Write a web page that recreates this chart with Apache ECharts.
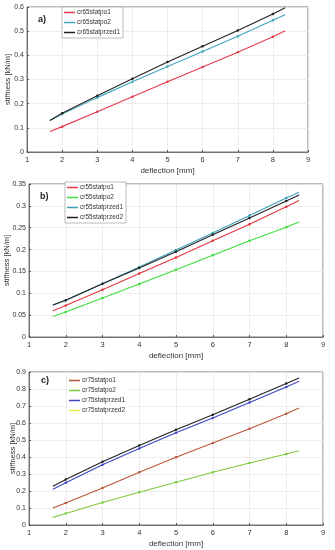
<!DOCTYPE html>
<html><head><meta charset="utf-8">
<script src="https://cdn.jsdelivr.net/npm/echarts@6/dist/echarts.min.js"></script>
<style>html,body{margin:0;padding:0;background:#fff}#c{width:335px;height:550px}</style>
</head><body><div id="c"></div>
<script>
const xs = [1.65, 2, 3, 4, 5, 6, 7, 8, 8.35];
// panel a
const aNames = ['cr65statpo1', 'cr65statpo2', 'cr65statprzed1'];
const a_po1 = [0.085, 0.105, 0.167, 0.229, 0.291, 0.352, 0.413, 0.477, 0.502];
const a_po2 = [0.130, 0.157, 0.225, 0.291, 0.354, 0.416, 0.479, 0.545, 0.568];
const a_przed1 = [0.130, 0.160, 0.233, 0.303, 0.372, 0.438, 0.503, 0.571, 0.597];
// panel b
const bNames = ['cr55statpo1', 'cr55statpo2', 'cr55statprzed1', 'cr55statprzed2'];
const b_po1 = [0.060, 0.072, 0.108, 0.145, 0.182, 0.220, 0.258, 0.298, 0.312];
const b_po2 = [0.047, 0.057, 0.089, 0.121, 0.154, 0.187, 0.220, 0.251, 0.263];
const b_przed1 = [0.073, 0.084, 0.122, 0.160, 0.199, 0.238, 0.278, 0.318, 0.331];
const b_przed2 = [0.073, 0.084, 0.122, 0.158, 0.195, 0.234, 0.272, 0.311, 0.325];
// panel c
const cNames = ['cr75statpo1', 'cr75statpo2', 'cr75statprzed1', 'cr75statprzed2'];
const c_po1 = [0.100, 0.130, 0.218, 0.310, 0.398, 0.483, 0.566, 0.654, 0.688];
const c_po2 = [0.045, 0.068, 0.132, 0.193, 0.252, 0.310, 0.365, 0.418, 0.437];
const c_przed1 = [0.210, 0.248, 0.355, 0.450, 0.542, 0.630, 0.720, 0.812, 0.845];
const c_przed2 = [0.228, 0.268, 0.372, 0.468, 0.560, 0.648, 0.740, 0.832, 0.865];
// tick settings
const xMin = 1, xMax = 9, xStep = 1;
const aMax = 0.6, aStep = 0.1;
const bMax = 0.35, bStep = 0.05;
const cMax = 0.9, cStep = 0.1;

const FONT = 'Liberation Sans';
function pts(ys){ return xs.map((x,i)=>[x, ys[i]]); }
function mkSeries(name, ys, color, gi){
  return {
    type:'line', name, data:pts(ys), xAxisIndex:gi, yAxisIndex:gi,
    symbol:'circle', symbolSize:(v)=>Number.isInteger(v[0])?2.5:0,
    showAllSymbol:true,
    lineStyle:{color, width:1.1}, itemStyle:{color},
    animation:false, z:3
  };
}
function xAxis(gi){
  return {type:'value', gridIndex:gi, min:xMin, max:xMax, interval:xStep,
    name:'deflection [mm]', nameLocation:'middle', nameGap:15, nameMoveOverlap:false,
    nameTextStyle:{fontFamily:FONT, fontSize:8, color:'#333'},
    axisLine:{lineStyle:{color:'#555', width:0.8}}, axisTick:{show:true, inside:true, length:2, lineStyle:{color:'#555'}},
    axisLabel:{fontFamily:FONT, fontSize:7.5, color:'#333', margin:4},
    splitLine:{show:true, lineStyle:{color:'#e8e8e8', width:0.8}}};
}
function yAxis(gi, max, step, gap){
  return {type:'value', gridIndex:gi, min:0, max, interval:step,
    name:'stiffness [kN/m]', nameLocation:'middle', nameGap:gap, nameMoveOverlap:false,
    nameTextStyle:{fontFamily:FONT, fontSize:7.5, color:'#333'},
    axisLine:{show:true, lineStyle:{color:'#555', width:0.8}}, axisTick:{show:true, inside:true, length:2, lineStyle:{color:'#555'}},
    axisLabel:{fontFamily:FONT, fontSize:7, color:'#333', margin:3},
    splitLine:{show:true, lineStyle:{color:'#e8e8e8', width:0.8}}};
}
function legend(names, colors, left, top, border){
  return {data:names.map((n,i)=>({name:n, itemStyle:{color:colors[i]}, lineStyle:{color:colors[i]}})),
    orient:'vertical', left, top, itemWidth:11, itemHeight:1.5, itemGap:3, padding:[2,3,2,2],
    icon:'rect', selectedMode:false,
    textStyle:{fontFamily:FONT, fontSize:6.5, color:'#333', padding:[0,0,0,-3]},
    backgroundColor:'#fff', borderColor:border?'#aaa':'transparent', borderWidth:border?0.8:0};
}
const colA = ['#e8394a', '#3fa7bf', '#222222'];
const colB = ['#e8353f', '#3ddc3d', '#3ba0b8', '#222222'];
const colC = ['#b8553a', '#7dcb3c', '#3a47c8', '#222222'];
const legC = ['#b8553a', '#7dcb3c', '#3a47c8', '#f0e84a'];

const gridBase = {show:true, borderColor:'#555', borderWidth:0.8, outerBoundsMode:'none', containLabel:false};
const chart = echarts.init(document.getElementById('c'), null, {renderer:'canvas'});
chart.setOption({
  animation:false,
  grid:[
    Object.assign({left:27, right:27, top:7, height:145}, gridBase),
    Object.assign({left:29, right:12, top:184, height:153}, gridBase),
    Object.assign({left:29, right:12, top:372, height:153}, gridBase)
  ],
  xAxis:[xAxis(0), xAxis(1), xAxis(2)],
  yAxis:[yAxis(0, aMax, aStep, 15), yAxis(1, bMax, bStep, 18), yAxis(2, cMax, cStep, 12)],
  legend:[legend(aNames, colA, 62, 7, true), legend(bNames, colB, 65, 182, true), legend(cNames, legC, 67, 375, false)],
  series:[
    mkSeries(aNames[0], a_po1, colA[0], 0),
    mkSeries(aNames[1], a_po2, colA[1], 0),
    mkSeries(aNames[2], a_przed1, colA[2], 0),
    mkSeries(bNames[0], b_po1, colB[0], 1),
    mkSeries(bNames[1], b_po2, colB[1], 1),
    mkSeries(bNames[2], b_przed1, colB[2], 1),
    mkSeries(bNames[3], b_przed2, colB[3], 1),
    mkSeries(cNames[0], c_po1, colC[0], 2),
    mkSeries(cNames[1], c_po2, colC[1], 2),
    mkSeries(cNames[2], c_przed1, colC[2], 2),
    mkSeries(cNames[3], c_przed2, colC[3], 2)
  ],
  graphic:[
    {type:'text', left:38, top:15, style:{text:'a)', fontFamily:FONT, fontSize:9, fontWeight:'bold', fill:'#222'}},
    {type:'text', left:40, top:192, style:{text:'b)', fontFamily:FONT, fontSize:9, fontWeight:'bold', fill:'#222'}},
    {type:'text', left:41, top:376, style:{text:'c)', fontFamily:FONT, fontSize:9, fontWeight:'bold', fill:'#222'}}
  ]
});
</script></body></html>
